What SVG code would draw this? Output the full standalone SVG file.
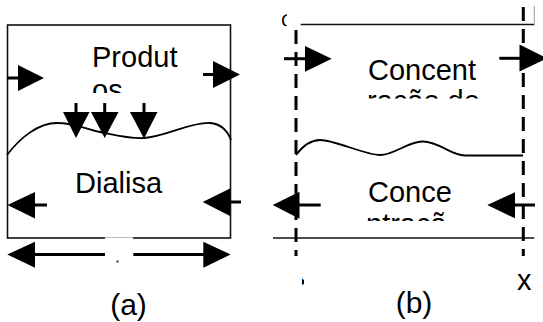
<svg xmlns="http://www.w3.org/2000/svg" width="543" height="322" viewBox="0 0 543 322">
<style>
.t{font-family:"Liberation Sans",Arial,sans-serif;font-size:29px;fill:#000}
.ln{stroke:#000;stroke-width:3;fill:none}
.thin{stroke:#111;stroke-width:1.6;fill:none}
.ah{fill:#000;stroke:none}
.dash{stroke:#000;stroke-width:3;stroke-dasharray:14 8;fill:none}
.curve{stroke:#000;stroke-width:1.8;fill:none}
</style>
<defs>
<clipPath id="cOs"><rect x="80" y="80" width="120" height="13"/></clipPath>
<clipPath id="cRacao"><rect x="350" y="85" width="140" height="13.5"/></clipPath>
<clipPath id="cNtra"><rect x="350" y="205" width="140" height="16"/></clipPath>
<clipPath id="cC"><rect x="278" y="11" width="9" height="15"/></clipPath>
<clipPath id="cX"><rect x="302" y="274" width="2" height="14"/></clipPath>
</defs>
<rect width="543" height="322" fill="#fff"/>

<g id="panel-a">
  <rect x="7.5" y="25" width="223" height="213" class="thin" stroke-width="2"/>
  <path class="curve" d="M7,155 C20,138 38,123 57,123 C75,123 85,129 100,132 C115,135 130,139 144,138 C165,137 190,122 210,123 C222,124 228,132 231,140"/>
  <text class="t" x="92" y="67">Produt</text>
  <text class="t" x="92" y="100" clip-path="url(#cOs)">os</text>
  <text class="t" x="75" y="193">Dialisa</text>
  <rect x="105" y="236.5" width="28" height="30" fill="#fff"/>
  <line x1="105" y1="237.5" x2="133" y2="237.5" stroke="#bbb" stroke-width="1"/>
  <rect x="116.5" y="260.5" width="2" height="2" fill="#333"/>
  <text class="t" x="128.5" y="314.5" text-anchor="middle" style="font-size:30px">(a)</text>
</g>

<g id="panel-b">
  <line x1="300.7" y1="24.5" x2="534.3" y2="24.5" class="thin"/>
  <line x1="534.3" y1="6" x2="534.3" y2="25" stroke="#999" stroke-width="1"/>
  <line x1="273" y1="238" x2="534.3" y2="238" class="thin"/>
  <path class="curve" d="M296,155 C302,147 310,140 320,140 C335,140 365,155 380,155 C395,155 408,141 423,141.5 C440,142 450,155 465,155.5 L523,155.5"/>
  <text class="t" x="281" y="27" clip-path="url(#cC)" style="font-size:19px">C</text>
  <text class="t" x="368" y="80">Concent</text>
  <text class="t" x="367" y="110.5" clip-path="url(#cRacao)">ração de</text>
  <text class="t" x="368" y="201.5">Conce</text>
  <text class="t" x="366" y="233.5" clip-path="url(#cNtra)">ntraçã</text>
  <text class="t" x="296" y="290" clip-path="url(#cX)">x</text>
  <text class="t" x="517" y="290">x</text>
  <text class="t" x="414" y="313" text-anchor="middle" style="font-size:30px">(b)</text>
</g>

<g id="connectors">
  <line class="ln" x1="7" y1="78" x2="20" y2="78"/>
  <polygon class="ah" points="18,65 44,78 18,91"/>
  <line class="ln" x1="203" y1="74.5" x2="215" y2="74.5"/>
  <polygon class="ah" points="213,61 240,74.5 213,88"/>
  <line class="ln" x1="76" y1="103" x2="76" y2="114"/>
  <polygon class="ah" points="63,112 89.5,112 76,138"/>
  <line class="ln" x1="104.7" y1="103" x2="104.7" y2="114"/>
  <polygon class="ah" points="91,112 118.5,112 104.7,138"/>
  <line class="ln" x1="144" y1="103" x2="144" y2="114"/>
  <polygon class="ah" points="130,112 157.5,112 144,138.5"/>
  <polygon class="ah" points="7.5,205 35,192 35,218.5"/>
  <line class="ln" x1="33" y1="205" x2="47" y2="205"/>
  <polygon class="ah" points="202.7,202 230,188.5 230,216"/>
  <line class="ln" x1="228" y1="202" x2="241" y2="202"/>
  <polygon class="ah" points="7.3,254.5 35,241.7 35,267.7"/>
  <line class="ln" x1="33" y1="254.5" x2="105" y2="254.5"/>
  <line class="ln" x1="133.3" y1="254.5" x2="205" y2="254.5"/>
  <polygon class="ah" points="203.3,241.7 230.7,254.5 203.3,267.7"/>
  <line class="dash" x1="296" y1="30" x2="296" y2="256"/>
  <line class="dash" x1="523.3" y1="7" x2="523.3" y2="256"/>
  <line class="ln" x1="284" y1="58.7" x2="307" y2="58.7"/>
  <polygon class="ah" points="305,46 331.7,58.7 305,71.7"/>
  <line class="ln" x1="499.3" y1="58.3" x2="522" y2="58.3"/>
  <polygon class="ah" points="519.5,44.5 547,58.3 519.5,71.5"/>
  <polygon class="ah" points="272.7,205 299.5,191.7 299.5,218.7"/>
  <line class="ln" x1="298" y1="205" x2="320.7" y2="205"/>
  <polygon class="ah" points="487.3,205 515,192.3 515,218.3"/>
  <line class="ln" x1="513" y1="205" x2="535" y2="205"/>
</g>
</svg>
